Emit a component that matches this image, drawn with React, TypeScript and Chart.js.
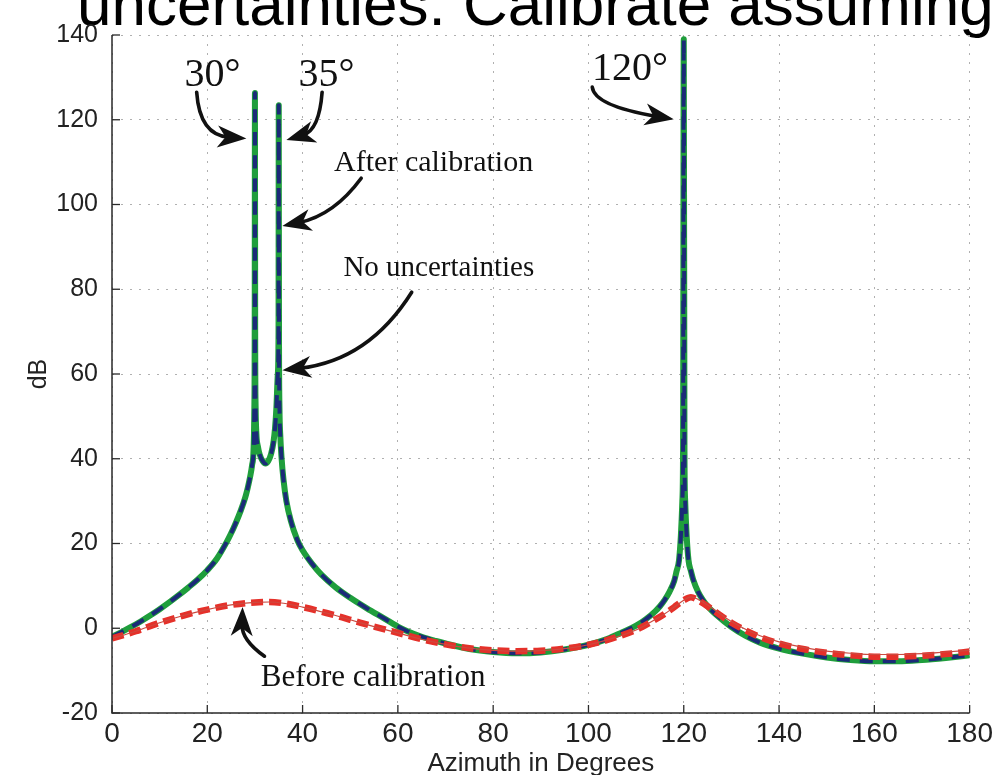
import React, { useEffect, useRef } from "react";
import { Chart, registerables } from "chart.js";

Chart.register(...registerables);

// ---- data ----
const noUncDeg = [
  0, 2, 4, 6, 8, 10, 12, 14, 16, 18, 20, 22, 24, 25, 26, 27, 28, 28.5, 29, 29.4, 29.7, 29.85, 29.95, 30,
  30.05, 30.15, 30.3, 30.6, 31, 31.6, 32.2, 32.8, 33.4, 33.9, 34.2, 34.5, 34.8, 34.95, 35, 35.05, 35.15,
  35.3, 35.6, 36, 36.6, 37.5, 38.9, 40, 42, 44, 47, 50, 53.5, 57, 60, 62, 65, 68, 70, 75, 80,
  85, 90, 95, 100, 104, 107, 110, 112, 114, 115, 116, 117, 118, 118.5, 119, 119.4, 119.7, 119.85, 120,
  120.15, 120.3, 120.6, 121, 121.5, 122, 123, 124, 125, 127, 130, 133, 136, 140, 145, 150, 155, 160,
  165, 170, 175, 180,
];
const noUncDb = [
  -2.0, -0.9, 0.3, 1.6, 3.0, 4.5, 6.1, 7.8, 9.6, 11.5, 13.7, 16.4, 20.2, 22.4, 24.9, 27.7, 31.0, 33.2,
  35.8, 38.5, 42, 50, 70, 126.3, 70, 52, 46, 43, 41, 39.5, 38.9, 39.5, 41.2, 44, 47, 52, 60, 70, 123.4,
  70, 52, 46, 40, 35, 30, 25.5, 20.8, 18.4, 15.2, 12.6, 9.6, 7.2, 4.7, 2.4, 0.4, -0.7, -2.0, -3.0,
  -3.6, -4.9, -5.6, -5.9, -5.7, -5.0, -3.9, -2.5, -1.0, 0.6, 2.1, 4.0, 5.2, 6.7, 8.6, 11.2, 13.5, 16,
  22, 30, 42, 139.0, 42, 30, 22, 16, 13.5, 11.4, 8.6, 6.7, 5.2, 3.0, 0.3, -1.8, -3.4, -4.8, -6.0, -6.9,
  -7.5, -7.8, -7.8, -7.5, -7.0, -6.4,
];
const afterCalDeg = noUncDeg;
const afterCalDb = noUncDb;

const beforeDeg = [
  0, 5, 10, 15, 20, 25, 30, 33, 36, 40, 45, 50, 55, 60, 65, 70, 75, 80, 85, 90, 95, 100, 105, 110, 113,
  116, 118, 120, 121.5, 123, 125, 128, 130, 135, 140, 145, 150, 155, 160, 165, 170, 175, 180,
];
const beforeDb = [
  -2.4, -0.7, 1.3, 3.0, 4.4, 5.5, 6.1, 6.2, 5.9, 5.0, 3.6, 2.0, 0.4, -1.1, -2.6, -3.8, -4.7, -5.2, -5.4,
  -5.3, -4.8, -3.9, -2.4, -0.4, 1.4, 3.4, 5.0, 6.6, 7.3, 6.6, 5.2, 2.8, 1.3, -1.6, -3.6, -4.9, -5.8,
  -6.4, -6.7, -6.7, -6.5, -6.1, -5.5,
];
const thinDb = [
  -2.4, -0.7, 1.3, 3.0, 4.4, 5.5, 6.1, 6.2, 5.9, 5.0, 3.6, 2.0, 0.4, -1.1, -2.6, -3.8, -4.7, -5.2, -5.4,
  -5.3, -4.8, -3.9, -2.4, -0.4, 1.4, 3.4, 5.0, 6.6, 7.4, 6.8, 5.5, 3.1, 1.6, -1.3, -3.2, -4.5, -5.4,
  -5.9, -6.2, -6.2, -6.0, -5.6, -5.2,
];

const xTickStep = 20;
const yTickStep = 20;

const titleText = "uncertainties. Calibrate assuming";

// annotation texts in data coordinates
const noteTexts = ["30°", "35°", "120°", "After calibration", "No uncertainties", "Before calibration"];
const noteX = [21.1, 45.0, 108.7, 67.5, 68.6, 54.8];
const noteY = [127.9, 127.9, 129.3, 109.7, 85.0, -11.8];
const noteSize = [40, 40, 40, 30, 29, 31];
const noteBaseline = ["alphabetic", "alphabetic", "alphabetic", "middle", "middle", "middle"];

// arrows: start, control, end (data coordinates)
const arrowStart = [[17.77, 126.5], [44.1, 126.5], [100.8, 127.7], [52.3, 106.2], [62.9, 79.3], [32.0, -6.6]];
const arrowCtrl = [[18.4, 116.3], [43.5, 117.5], [101.2, 123.3], [46.6, 97.5], [53.9, 63.2], [27.2, -2.8]];
const arrowEnd = [[28.2, 115.6], [36.6, 115.2], [117.9, 120.1], [35.75, 94.9], [35.75, 60.9], [27.4, 5.0]];

const SANS = '"Liberation Sans", Arial, Helvetica, sans-serif';
const SERIF = '"Liberation Serif", "Times New Roman", serif';

function drawArrow(ctx: CanvasRenderingContext2D, x0: number, y0: number, cx: number, cy: number, x1: number, y1: number) {
  const ang = Math.atan2(y1 - cy, x1 - cx);
  const c = Math.cos(ang), s = Math.sin(ang);
  const L = 29, W = 11;
  const bx = x1 - c * L * 0.6, by = y1 - s * L * 0.6;
  ctx.beginPath();
  ctx.moveTo(x0, y0);
  ctx.quadraticCurveTo(cx, cy, bx, by);
  ctx.lineWidth = 3.6;
  ctx.lineCap = "round";
  ctx.stroke();
  ctx.beginPath();
  ctx.moveTo(x1, y1);
  ctx.lineTo(x1 - c * L - s * W, y1 - s * L + c * W);
  ctx.lineTo(x1 - c * L * 0.72, y1 - s * L * 0.72);
  ctx.lineTo(x1 - c * L + s * W, y1 - s * L - c * W);
  ctx.closePath();
  ctx.fill();
}

const decorPlugin = {
  id: "decor",
  beforeDraw(chart: any) {
    const ctx = chart.ctx as CanvasRenderingContext2D;
    ctx.save();
    ctx.fillStyle = "#ffffff";
    ctx.fillRect(0, 0, chart.width, chart.height);
    ctx.fillStyle = "#000";
    ctx.font = `62px ${SANS}`;
    ctx.textAlign = "left";
    ctx.textBaseline = "alphabetic";
    ctx.fillText(titleText, 77, 25);
    ctx.restore();
  },
  afterDatasetsDraw(chart: any) {
    const ctx = chart.ctx as CanvasRenderingContext2D;
    const xs = chart.scales.x, ys = chart.scales.y;
    const a = chart.chartArea;
    ctx.save();
    // axes lines
    ctx.strokeStyle = "#2a2a2a";
    ctx.lineWidth = 1.5;
    ctx.beginPath();
    ctx.moveTo(a.left, a.top);
    ctx.lineTo(a.left, a.bottom);
    ctx.lineTo(a.right, a.bottom);
    ctx.stroke();
    // inward ticks
    ctx.lineWidth = 1.3;
    xs.ticks.forEach((t: any) => {
      const px = xs.getPixelForValue(t.value);
      ctx.beginPath();
      ctx.moveTo(px, a.bottom);
      ctx.lineTo(px, a.bottom - 8);
      ctx.stroke();
    });
    ys.ticks.forEach((t: any) => {
      const py = ys.getPixelForValue(t.value);
      ctx.beginPath();
      ctx.moveTo(a.left, py);
      ctx.lineTo(a.left + 8, py);
      ctx.stroke();
    });
    // annotations
    ctx.fillStyle = "#111";
    ctx.strokeStyle = "#111";
    noteTexts.forEach((txt, i) => {
      ctx.font = `${noteSize[i]}px ${SERIF}`;
      ctx.textAlign = "center";
      ctx.textBaseline = noteBaseline[i] as CanvasTextBaseline;
      ctx.fillText(txt, xs.getPixelForValue(noteX[i]), ys.getPixelForValue(noteY[i]));
    });
    arrowStart.forEach((st, i) => {
      const ct = arrowCtrl[i], en = arrowEnd[i];
      drawArrow(
        ctx,
        xs.getPixelForValue(st[0]), ys.getPixelForValue(st[1]),
        xs.getPixelForValue(ct[0]), ys.getPixelForValue(ct[1]),
        xs.getPixelForValue(en[0]), ys.getPixelForValue(en[1])
      );
    });
    ctx.restore();
  },
};

function toPoints(xsArr: number[], ysArr: number[]) {
  return xsArr.map((x, i) => ({ x, y: ysArr[i] }));
}

export default function App() {
  const ref = useRef<HTMLCanvasElement | null>(null);
  useEffect(() => {
    document.body.style.margin = "0";
    document.body.style.overflow = "hidden";
    const canvas = ref.current;
    if (!canvas) return;
    const chart = new Chart(canvas, {
      type: "line",
      data: {
        datasets: [
          {
            label: "Before calibration (thin)",
            data: toPoints(beforeDeg, thinDb),
            borderColor: "#cc4a40",
            borderWidth: 1.2,
            pointRadius: 0,
            order: 1,
          },
          {
            label: "Before calibration",
            data: toPoints(beforeDeg, beforeDb),
            borderColor: "#e5312a",
            borderWidth: 6.5,
            borderDash: [12, 6],
            borderJoinStyle: "round",
            pointRadius: 0,
            order: 2,
          },
          {
            label: "After calibration",
            data: toPoints(afterCalDeg, afterCalDb),
            borderColor: "#1b2a78",
            borderWidth: 4,
            borderDash: [13, 10],
            borderJoinStyle: "round",
            pointRadius: 0,
            order: 3,
          },
          {
            label: "No uncertainties",
            data: toPoints(noUncDeg, noUncDb),
            borderColor: "#1f9e3c",
            borderWidth: 6,
            borderJoinStyle: "round",
            borderCapStyle: "round",
            pointRadius: 0,
            order: 4,
          },
        ],
      },
      options: {
        animation: false,
        responsive: false,
        maintainAspectRatio: false,
        layout: { padding: { top: 35, right: 24, left: 0, bottom: 0 } },
        plugins: { legend: { display: false }, tooltip: { enabled: false }, title: { display: false } },
        elements: { line: { cubicInterpolationMode: "monotone" }, point: { radius: 0 } },
        scales: {
          x: {
            type: "linear",
            min: 0,
            max: 180,
            ticks: { stepSize: xTickStep, font: { family: SANS, size: 28 }, color: "#222", padding: 4, maxRotation: 0 },
            grid: { color: "#b0b0b0", drawTicks: false, lineWidth: 1 },
            border: { display: false, dash: [2, 7] },
            title: { display: true, text: "Azimuth in Degrees", color: "#222", font: { family: SANS, size: 26, lineHeight: 0.85 }, padding: 0 },
            afterFit(s: any) { s.height = 62; },
          },
          y: {
            type: "linear",
            min: -20,
            max: 140,
            ticks: { stepSize: yTickStep, font: { family: SANS, size: 25 }, color: "#222", padding: 14 },
            grid: { color: "#b0b0b0", drawTicks: false, lineWidth: 1 },
            border: { display: false, dash: [2, 7] },
            title: { display: true, text: "dB", color: "#222", font: { family: SANS, size: 25, lineHeight: 1 }, padding: { top: 27, bottom: 0 } },
            afterFit(s: any) { s.width = 112; },
          },
        },
      },
      plugins: [decorPlugin],
    } as any);
    return () => chart.destroy();
  }, []);
  return <canvas ref={ref} width={997} height={775} style={{ display: "block" }} />;
}
